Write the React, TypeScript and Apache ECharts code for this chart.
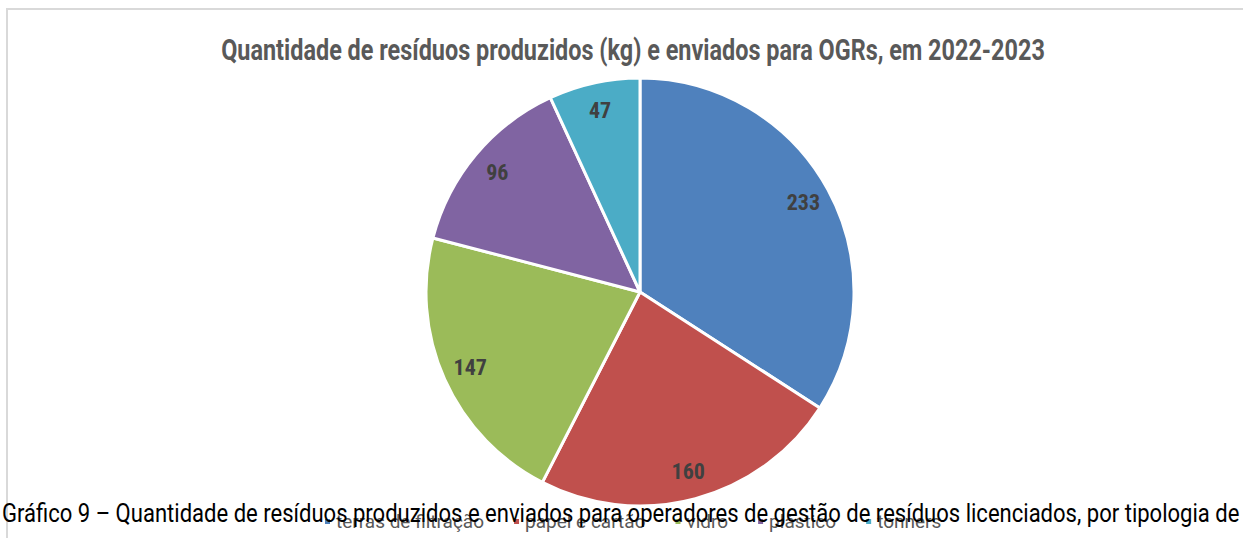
import React, { useEffect, useRef } from "react";
import * as echarts from "echarts";

// Resíduos produzidos (kg) por tipologia
const categories = ["terras de filtração", "papel e cartão", "vidro", "plástico", "tonners"];
const values = [233, 160, 147, 96, 47];
const colors = ["#4f81bd", "#c0504d", "#9bbb59", "#8064a2", "#4bacc6"];

const titleText = "Quantidade de resíduos produzidos (kg) e enviados para OGRs, em 2022-2023";
const captionText =
  "Gráfico 9 – Quantidade de resíduos produzidos e enviados para operadores de gestão de resíduos licenciados, por tipologia de";

const FONT = "Roboto, 'Noto Sans', sans-serif";
const NARROW = "'Roboto Condensed', 'DejaVu Sans Condensed', 'Liberation Sans Narrow', Roboto, sans-serif";

// horizontal squeeze so a string spans the given width
function squeeze(text: string, font: string, width: number): number {
  const ctx = document.createElement("canvas").getContext("2d");
  if (!ctx) return 1;
  ctx.font = font;
  const w = ctx.measureText(text).width;
  return w > 0 ? width / w : 1;
}

export default function App() {
  const ref = useRef<HTMLDivElement>(null);

  useEffect(() => {
    if (!ref.current) return;
    const chart = echarts.init(ref.current, undefined, { renderer: "svg" });

    const titleFont = `bold 30px ${FONT}`;
    const captionFont = `normal 26px ${FONT}`;
    const titleScale = squeeze(titleText, titleFont, 824);
    const captionScale = squeeze(captionText, captionFont, 1238);

    const pieData = categories.map((name, i) => ({
      name,
      value: values[i],
      itemStyle: { color: colors[i] },
    }));

    chart.setOption({
      animation: false,
      backgroundColor: "#ffffff",
      legend: {
        left: 318,
        top: 507,
        icon: "rect",
        itemWidth: 7,
        itemHeight: 7,
        itemGap: 28,
        textStyle: { color: "#595959", fontSize: 19, fontFamily: FONT },
        data: categories.map((name, i) => ({ name, itemStyle: { color: colors[i] } })),
      },
      graphic: [
        {
          type: "rect",
          z: 0,
          shape: { x: 7, y: 9, width: 1400, height: 700 },
          style: { fill: "none", stroke: "#d9d9d9", lineWidth: 2 },
          silent: true,
        },
        {
          type: "text",
          x: 633,
          y: 50,
          scaleX: titleScale,
          style: {
            text: titleText,
            font: titleFont,
            fill: "#595959",
            textAlign: "center",
            textVerticalAlign: "middle",
          },
        },
        {
          type: "text",
          x: 2,
          y: 513,
          z: 100,
          scaleX: captionScale,
          style: {
            text: captionText,
            font: captionFont,
            fill: "#000000",
            textAlign: "left",
            textVerticalAlign: "middle",
          },
        },
      ],
      series: [
        {
          type: "pie",
          center: [640, 292],
          radius: 214,
          startAngle: 90,
          clockwise: true,
          data: pieData,
          itemStyle: { borderColor: "#ffffff", borderWidth: 3 },
          label: { show: false },
          labelLine: { show: false },
          emphasis: { disabled: true },
        },
        {
          // transparent ring that carries the value labels near the rim
          type: "pie",
          center: [640, 292],
          radius: [152, 214],
          startAngle: 90,
          clockwise: true,
          silent: true,
          data: pieData.map((d) => ({ name: d.name, value: d.value, itemStyle: { color: "transparent" } })),
          itemStyle: { borderWidth: 0 },
          label: {
            show: true,
            position: "inside",
            formatter: "{c}",
            color: "#404040",
            fontSize: 22,
            fontWeight: "bold",
            fontFamily: NARROW,
          },
          labelLine: { show: false },
          emphasis: { disabled: true },
        },
      ],
    });

    return () => chart.dispose();
  }, []);

  return (
    <div
      ref={ref}
      style={{ position: "absolute", left: 0, top: 0, width: 1243, height: 538 }}
    />
  );
}
